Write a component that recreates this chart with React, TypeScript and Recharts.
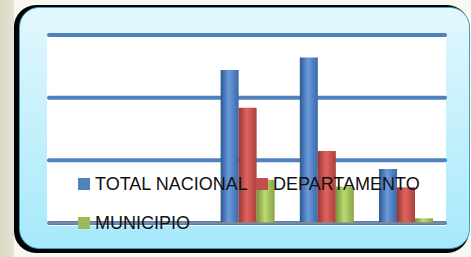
import React from "react"
import { BarChart, Bar, XAxis, YAxis, CartesianGrid } from "recharts"

// five slots on the category axis, only the last three carry data
const categories = ["c1", "c2", "c3", "c4", "c5"]
const totalNacional = [0, 0, 24.4, 26.4, 8.6]
const departamento = [0, 0, 18.4, 11.5, 5.7]
const municipio = [0, 0, 6.9, 5.8, 0.75]
const yTicks = [0, 10, 20, 30]

const series = [
  { key: "total", name: "TOTAL NACIONAL", color: "#4f81bd", grad: ["#2c5891", "#6a9bdc", "#3a68a8"] },
  { key: "depto", name: "DEPARTAMENTO", color: "#c0504d", grad: ["#9a3532", "#e0645f", "#aa413e"] },
  { key: "muni", name: "MUNICIPIO", color: "#9bbb59", grad: ["#72933a", "#bcdb72", "#86a545"] },
]

const data = categories.map((c, i) => ({
  name: c,
  total: totalNacional[i],
  depto: departamento[i],
  muni: municipio[i],
}))

const LEGEND_TEXT: React.CSSProperties = {
  position: "absolute",
  fontFamily: "'Liberation Sans', Arial, sans-serif",
  fontSize: 18,
  lineHeight: "20px",
  color: "#111",
  whiteSpace: "nowrap",
}

// where each legend entry sits (left of swatch, vertical centre)
const legendSpots = [
  { x: 78, y: 184 },
  { x: 256, y: 184 },
  { x: 78, y: 223 },
]

export default function App() {
  return (
    <div
      style={{
        position: "absolute",
        left: 0,
        top: 0,
        width: 471,
        height: 257,
        overflow: "hidden",
        background: "linear-gradient(to right, #d8d9c4 0px, #e6e4d4 14px, #f8f7f2 14px)",
      }}
    >
      {/* black drop frame */}
      <div style={{ position: "absolute", left: 14, top: 5, width: 455, height: 248, background: "#000", borderRadius: 22 }} />
      {/* light blue panel */}
      <div
        style={{
          position: "absolute",
          left: 19,
          top: 7,
          width: 449,
          height: 240,
          borderRadius: 20,
          border: "1px solid #3aa3c4",
          background: "linear-gradient(to bottom, #e3f7fd, #a6e9fb)",
        }}
      />
      {/* white plot area */}
      <div style={{ position: "absolute", left: 47, top: 35, width: 399, height: 191, background: "#fff" }} />

      <div style={{ position: "absolute", left: 0, top: 0 }}>
        <BarChart
          width={471}
          height={257}
          data={data}
          margin={{ top: 35, right: 26, bottom: 33, left: 49 }}
          barCategoryGap="16.7%"
          barGap={0}
        >
          <defs>
            {series.map((s) => (
              <linearGradient key={s.key} id={"g-" + s.key} x1="0" y1="0" x2="1" y2="0">
                <stop offset="0%" stopColor={s.grad[0]} />
                <stop offset="45%" stopColor={s.grad[1]} />
                <stop offset="100%" stopColor={s.grad[2]} />
              </linearGradient>
            ))}
          </defs>
          <CartesianGrid
            vertical={false}
            stroke="#4f81bd"
            strokeWidth={4}
            strokeLinecap="round"
          />
          <XAxis
            dataKey="name"
            height={1}
            tick={false}
            tickLine={false}
            axisLine={{ stroke: "#8c8c8c", strokeWidth: 1.5 }}
          />
          <YAxis hide domain={[0, 30]} ticks={yTicks} />
          {series.map((s) => (
            <Bar
              key={s.key}
              dataKey={s.key}
              name={s.name}
              fill={`url(#g-${s.key})`}
              isAnimationActive={false}
            />
          ))}
        </BarChart>
      </div>

      {/* legend overlaps the plot like in the original */}
      {series.map((s, i) => (
        <React.Fragment key={s.key}>
          <div
            style={{
              position: "absolute",
              left: legendSpots[i].x,
              top: legendSpots[i].y - 6,
              width: 12,
              height: 12,
              background: s.color,
            }}
          />
          <div style={{ ...LEGEND_TEXT, left: legendSpots[i].x + 17, top: legendSpots[i].y - 10 }}>{s.name}</div>
        </React.Fragment>
      ))}
    </div>
  )
}
